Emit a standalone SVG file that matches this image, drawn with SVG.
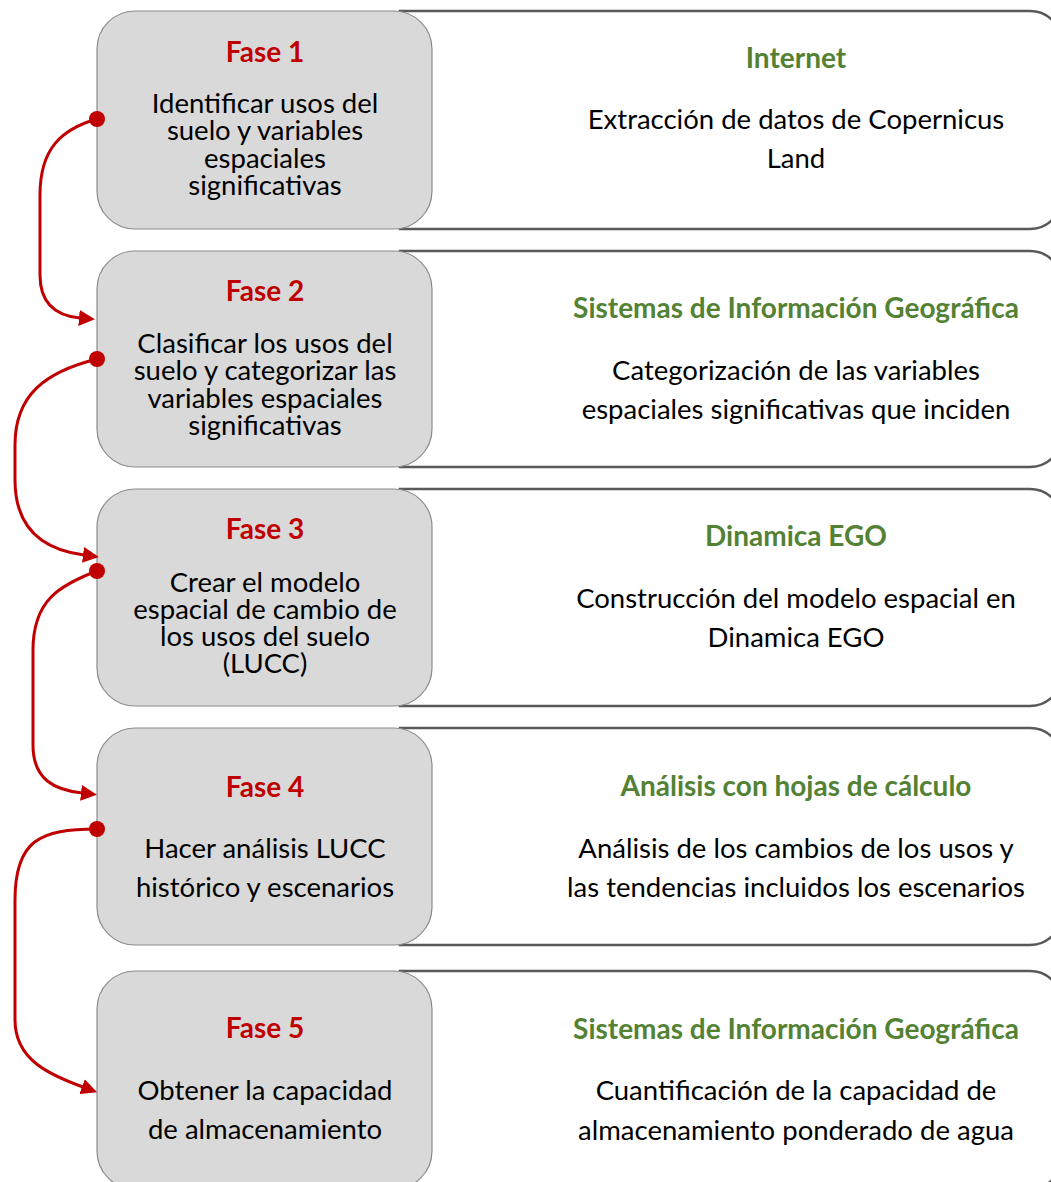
<svg xmlns="http://www.w3.org/2000/svg" width="1051" height="1182" viewBox="0 0 1051 1182">
<defs>
<style>
.outer{fill:#ffffff;stroke:#595959;stroke-width:2.5}
.phase{fill:#d9d9d9;stroke:#8c8c8c;stroke-width:1.2}
text{font-family:Lato,"Open Sans","Liberation Sans",sans-serif;text-anchor:middle}
.ft{font-size:28px;font-weight:bold;fill:#c00000}
.lt{font-size:27.5px;fill:#000000}
.gt{font-size:28px;font-weight:bold;fill:#548235}
.rt{font-size:27.5px;fill:#000000}
.conn{fill:none;stroke:#c00000;stroke-width:3}
.dot{fill:#c00000}
</style>
<marker id="arr" markerUnits="userSpaceOnUse" markerWidth="16" markerHeight="16" viewBox="0 0 16 16" refX="1" refY="8" orient="auto">
<path d="M0,0 L16,8 L0,16 z" fill="#c00000"/>
</marker>
</defs>
<rect width="1051" height="1182" fill="#ffffff"/>

<g id="row1">
<path class="outer" d="M400,11 H1030 A32,32 0 0 1 1062,43 V197 A32,32 0 0 1 1030,229 H400 Z"/>
<rect class="phase" x="97" y="11" width="335" height="218" rx="38"/>
<text class="ft" x="265" y="62">Fase 1</text>
<text class="lt" x="265" y="113">Identificar usos del</text>
<text class="lt" x="265" y="140">suelo y variables</text>
<text class="lt" x="265" y="168">espaciales</text>
<text class="lt" x="265" y="195">significativas</text>
<text class="gt" x="796" y="68">Internet</text>
<text class="rt" x="796" y="129">Extracción de datos de Copernicus</text>
<text class="rt" x="796" y="168">Land</text>
</g>

<g id="row2">
<path class="outer" d="M400,251 H1030 A32,32 0 0 1 1062,283 V435 A32,32 0 0 1 1030,467 H400 Z"/>
<rect class="phase" x="97" y="251" width="335" height="216" rx="38"/>
<text class="ft" x="265" y="301">Fase 2</text>
<text class="lt" x="265" y="353">Clasificar los usos del</text>
<text class="lt" x="265" y="380">suelo y categorizar las</text>
<text class="lt" x="265" y="408">variables espaciales</text>
<text class="lt" x="265" y="435">significativas</text>
<text class="gt" x="796" y="318">Sistemas de Información Geográfica</text>
<text class="rt" x="796" y="380">Categorización de las variables</text>
<text class="rt" x="796" y="419">espaciales significativas que inciden</text>
</g>

<g id="row3">
<path class="outer" d="M400,489 H1030 A32,32 0 0 1 1062,521 V674 A32,32 0 0 1 1030,706 H400 Z"/>
<rect class="phase" x="97" y="489" width="335" height="217" rx="38"/>
<text class="ft" x="265" y="539">Fase 3</text>
<text class="lt" x="265" y="592">Crear el modelo</text>
<text class="lt" x="265" y="619">espacial de cambio de</text>
<text class="lt" x="265" y="646">los usos del suelo</text>
<text class="lt" x="265" y="673">(LUCC)</text>
<text class="gt" x="796" y="546">Dinamica EGO</text>
<text class="rt" x="796" y="608">Construcción del modelo espacial en</text>
<text class="rt" x="796" y="647">Dinamica EGO</text>
</g>

<g id="row4">
<path class="outer" d="M400,728 H1030 A32,32 0 0 1 1062,760 V913 A32,32 0 0 1 1030,945 H400 Z"/>
<rect class="phase" x="97" y="728" width="335" height="217" rx="38"/>
<text class="ft" x="265" y="797">Fase 4</text>
<text class="lt" x="265" y="858">Hacer análisis LUCC</text>
<text class="lt" x="265" y="897">histórico y escenarios</text>
<text class="gt" x="796" y="796">Análisis con hojas de cálculo</text>
<text class="rt" x="796" y="858">Análisis de los cambios de los usos y</text>
<text class="rt" x="796" y="897">las tendencias incluidos los escenarios</text>
</g>

<g id="row5">
<path class="outer" d="M400,971 H1030 A32,32 0 0 1 1062,1003 V1157 A32,32 0 0 1 1030,1189 H400 Z"/>
<rect class="phase" x="97" y="971" width="335" height="218" rx="38"/>
<text class="ft" x="265" y="1038">Fase 5</text>
<text class="lt" x="265" y="1100">Obtener la capacidad</text>
<text class="lt" x="265" y="1139">de almacenamiento</text>
<text class="gt" x="796" y="1039">Sistemas de Información Geográfica</text>
<text class="rt" x="796" y="1100">Cuantificación de la capacidad de</text>
<text class="rt" x="796" y="1140">almacenamiento ponderado de agua</text>
</g>

<g id="connectors">
<path class="conn" d="M97,119 C62,129 40,148 40,195 L40,275 C40,305 58,316 80,318" marker-end="url(#arr)"/>
<path class="conn" d="M97,359 C45,372 15,395 15,445 L15,480 C15,530 45,550 84,555" marker-end="url(#arr)"/>
<path class="conn" d="M97,571 C60,585 33,600 33,650 L33,745 C33,780 55,790 82,793" marker-end="url(#arr)"/>
<path class="conn" d="M97,829 C40,829 15,840 15,900 L15,1020 C15,1060 50,1075 83,1087" marker-end="url(#arr)"/>
<circle class="dot" cx="97" cy="119" r="8"/>
<circle class="dot" cx="97" cy="359" r="8"/>
<circle class="dot" cx="97" cy="571" r="8"/>
<circle class="dot" cx="97" cy="829" r="8"/>
</g>
</svg>
